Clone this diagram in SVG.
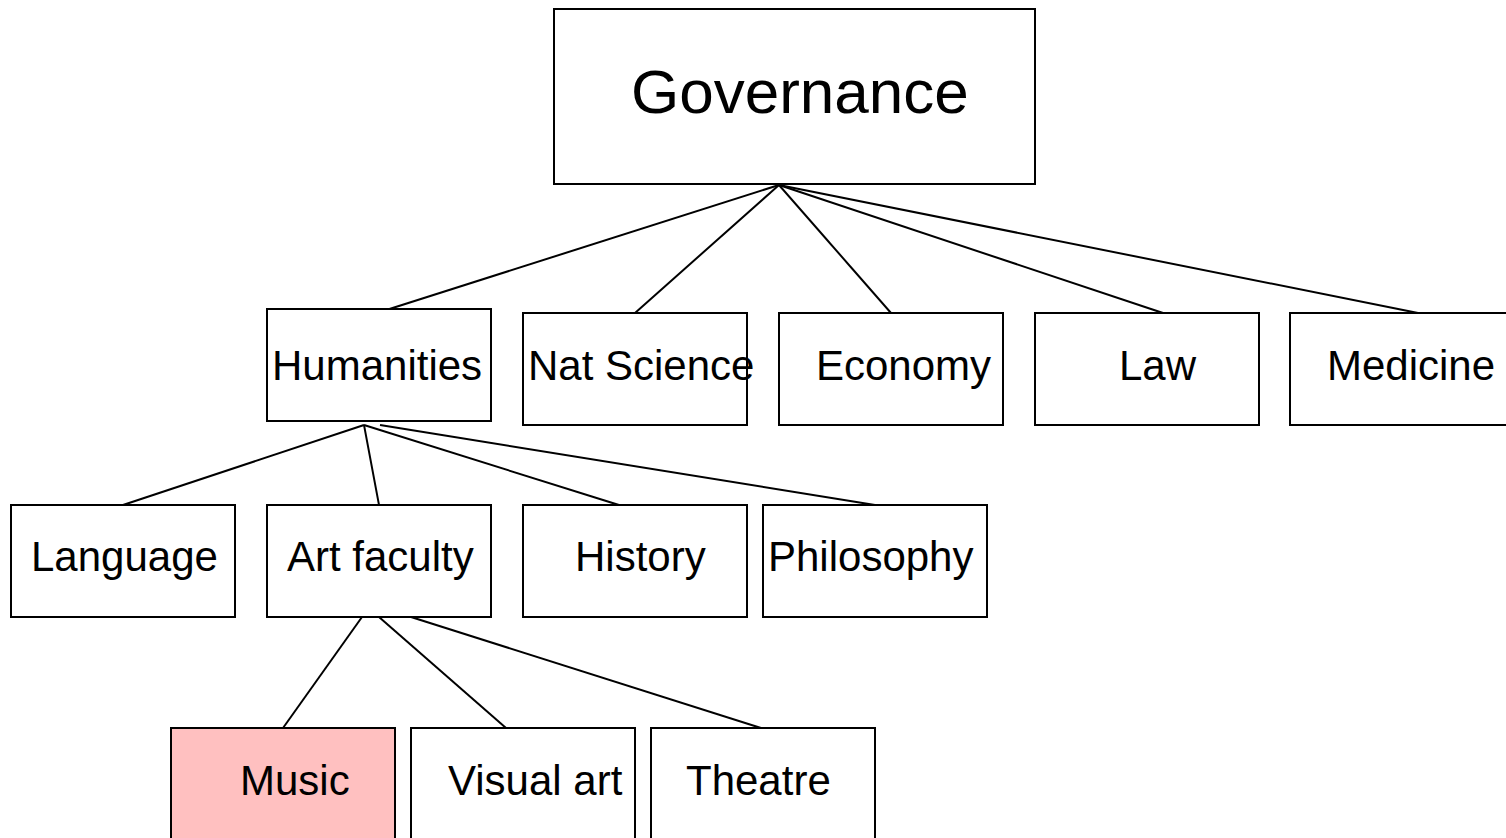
<svg xmlns="http://www.w3.org/2000/svg" width="1506" height="838" viewBox="0 0 1506 838">
<style>
  .box { fill: #ffffff; stroke: #000000; stroke-width: 2; }
  .hl { fill: #ffc0c0; }
  .lbl { font-family: "Liberation Sans", Arial, sans-serif; font-size: 42px; fill: #000000; }
  .big { font-size: 62px; }
  .conn line { stroke: #000000; stroke-width: 2; }
</style>
<rect x="0" y="0" width="1506" height="838" fill="#ffffff"/>
<g id="connectors" class="conn">
  <line x1="779" y1="185" x2="380" y2="312"/>
  <line x1="779" y1="185" x2="635" y2="313"/>
  <line x1="779" y1="185" x2="891" y2="313"/>
  <line x1="779" y1="185" x2="1163" y2="313"/>
  <line x1="779" y1="185" x2="1418" y2="313"/>
  <line x1="364" y1="425" x2="123" y2="505"/>
  <line x1="364" y1="425" x2="379" y2="505"/>
  <line x1="364" y1="425" x2="619" y2="505"/>
  <line x1="380" y1="425" x2="875" y2="505"/>
  <line x1="362" y1="617" x2="283" y2="728"/>
  <line x1="379" y1="617" x2="506" y2="728"/>
  <line x1="411" y1="617" x2="761" y2="728"/>
</g>
<g id="governance">
  <rect class="box" x="554" y="9" width="481" height="175"/>
  <text class="lbl big" x="631" y="113">Governance</text>
</g>
<g id="humanities">
  <rect class="box" x="267" y="309" width="224" height="112"/>
  <text class="lbl" x="272" y="380">Humanities</text>
</g>
<g id="natscience">
  <rect class="box" x="523" y="313" width="224" height="112"/>
  <text class="lbl" x="528" y="380">Nat Science</text>
</g>
<g id="economy">
  <rect class="box" x="779" y="313" width="224" height="112"/>
  <text class="lbl" x="816" y="380">Economy</text>
</g>
<g id="law">
  <rect class="box" x="1035" y="313" width="224" height="112"/>
  <text class="lbl" x="1119" y="380">Law</text>
</g>
<g id="medicine">
  <rect class="box" x="1290" y="313" width="224" height="112"/>
  <text class="lbl" x="1327" y="380">Medicine</text>
</g>
<g id="language">
  <rect class="box" x="11" y="505" width="224" height="112"/>
  <text class="lbl" x="31" y="571">Language</text>
</g>
<g id="artfaculty">
  <rect class="box" x="267" y="505" width="224" height="112"/>
  <text class="lbl" x="287" y="571">Art faculty</text>
</g>
<g id="history">
  <rect class="box" x="523" y="505" width="224" height="112"/>
  <text class="lbl" x="575" y="571">History</text>
</g>
<g id="philosophy">
  <rect class="box" x="763" y="505" width="224" height="112"/>
  <text class="lbl" x="768" y="571">Philosophy</text>
</g>
<g id="music">
  <rect class="box hl" x="171" y="728" width="224" height="112"/>
  <text class="lbl" x="240" y="795">Music</text>
</g>
<g id="visualart">
  <rect class="box" x="411" y="728" width="224" height="112"/>
  <text class="lbl" x="448" y="795">Visual art</text>
</g>
<g id="theatre">
  <rect class="box" x="651" y="728" width="224" height="112"/>
  <text class="lbl" x="686" y="795">Theatre</text>
</g>
</svg>
